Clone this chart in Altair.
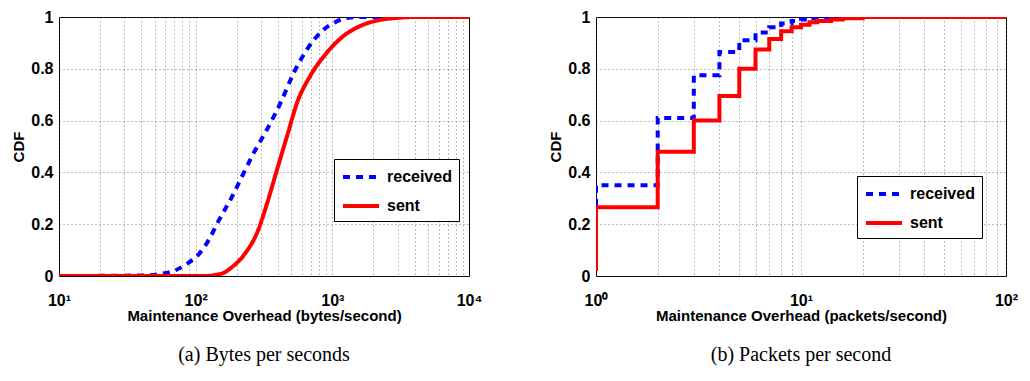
import altair as alt
import pandas as pd

FONT = "Liberation Sans"
SERIES = ["received", "sent"]
COLORS = ["#0000ff", "#ff0000"]

# Panel (a): bytes per second
bytes_received_x = [10, 40, 55, 71, 85, 105, 125, 146, 182, 221, 269, 336, 419, 523, 653, 863, 1050, 1270, 1660, 10000]
bytes_received_y = [0.0, 0.002, 0.008, 0.022, 0.045, 0.083, 0.14, 0.21, 0.30, 0.39, 0.48, 0.57, 0.67, 0.785, 0.875, 0.951, 0.98, 0.996, 1.0, 1.0]
bytes_sent_x = [10, 120, 138, 160, 182, 227, 284, 336, 396, 468, 553, 690, 910, 1202, 1680, 2200, 2920, 4000, 10000]
bytes_sent_y = [0.0, 0.0, 0.004, 0.012, 0.032, 0.083, 0.172, 0.287, 0.415, 0.543, 0.67, 0.773, 0.862, 0.926, 0.97, 0.988, 0.996, 1.0, 1.0]

# Panel (b): packets per second (step CDF)
pkt_received_x = [1, 1, 2, 3, 4, 5, 6, 7, 8, 9, 10, 11, 13, 100]
pkt_received_y = [0.02, 0.35, 0.61, 0.775, 0.865, 0.91, 0.94, 0.96, 0.975, 0.985, 0.99, 0.995, 1.0, 1.0]
pkt_sent_x = [1, 1, 2, 3, 4, 5, 6, 7, 8, 9, 10, 11, 12, 14, 16, 20, 100]
pkt_sent_y = [0.02, 0.265, 0.48, 0.60, 0.695, 0.80, 0.875, 0.915, 0.945, 0.96, 0.97, 0.98, 0.985, 0.99, 0.995, 1.0, 1.0]

bytes_ticks = [m * 10 ** k for k in range(1, 4) for m in range(1, 10)] + [10000]
pkt_ticks = [m * 10 ** k for k in range(0, 2) for m in range(1, 10)] + [100]
bytes_labels = {10: "10¹", 100: "10²", 1000: "10³", 10000: "10⁴"}
pkt_labels = {1: "10⁰", 10: "10¹", 100: "10²"}
y_ticks = [0, 0.2, 0.4, 0.6, 0.8, 1]


def frame(rx, ry, sx, sy):
    rows = []
    for i, (x, y) in enumerate(zip(rx, ry)):
        rows.append({"x": x, "cdf": y, "series": "received", "i": i})
    for i, (x, y) in enumerate(zip(sx, sy)):
        rows.append({"x": x, "cdf": y, "series": "sent", "i": i})
    return pd.DataFrame(rows)


def label_expr(mapping):
    parts = [f"datum.value == {k} ? '{v}'" for k, v in mapping.items()]
    return " : ".join(parts) + " : ''"


def panel(df, domain, ticks, labels, xtitle, caption, lx, ly, interp):
    legend = alt.Legend(
        title=None, orient="none", legendX=lx, legendY=ly,
        strokeColor="black", fillColor="white", padding=7,
        symbolType="M-1,0H3", symbolSize=324, symbolStrokeWidth=4,
        labelFont=FONT, labelFontSize=16, labelFontWeight="bold",
        labelColor="black", labelOffset=24, rowPadding=10, cornerRadius=0,
    )
    return alt.Chart(df).mark_line(strokeWidth=4, interpolate=interp, clip=True).encode(
        x=alt.X("x:Q", scale=alt.Scale(type="log", domain=domain),
                axis=alt.Axis(values=ticks, labelExpr=label_expr(labels), title=xtitle,
                              labelFlush=False, labelOverlap=False, ticks=False,
                              labelPadding=16, titlePadding=0)),
        y=alt.Y("cdf:Q", scale=alt.Scale(domain=[0, 1], nice=False),
                axis=alt.Axis(values=y_ticks, format="~g", title="CDF", ticks=False,
                              labelPadding=6, titlePadding=4)),
        color=alt.Color("series:N", scale=alt.Scale(domain=SERIES, range=COLORS), legend=legend),
        strokeDash=alt.StrokeDash("series:N", scale=alt.Scale(domain=SERIES, range=[[7, 6], [1, 0]]), legend=legend),
        order=alt.Order("i:Q"),
    ).properties(
        width=410, height=259,
        title=alt.TitleParams(caption, orient="bottom", font="Liberation Serif", fontSize=20,
                              fontWeight="normal", color="black", offset=22, anchor="middle"),
    )


left = panel(frame(bytes_received_x, bytes_received_y, bytes_sent_x, bytes_sent_y),
             [10, 10000], bytes_ticks, bytes_labels,
             "Maintenance Overhead (bytes/second)", "(a) Bytes per seconds", 275, 142, "monotone")
right = panel(frame(pkt_received_x, pkt_received_y, pkt_sent_x, pkt_sent_y),
              [1, 100], pkt_ticks, pkt_labels,
              "Maintenance Overhead (packets/second)", "(b) Packets per second", 261, 159, "step-after")

chart = alt.hconcat(left, right, spacing=65).resolve_scale(
    color="independent", strokeDash="independent"
).resolve_legend(color="independent", strokeDash="independent").configure_view(
    stroke="black", strokeWidth=1
).configure_axis(
    labelFont=FONT, labelFontSize=16, labelFontWeight="bold", labelColor="black",
    titleFont=FONT, titleFontSize=15, titleFontWeight="bold", titleColor="black",
    domain=False, grid=True, gridColor="#444", gridDash=[1, 3], gridWidth=1, gridOpacity=0.7,
).properties(
    padding={"left": 3, "right": 0, "top": 0, "bottom": 4},
    background="white",
)

chart.save("out.html", embed_options={"renderer": "svg", "actions": False})
